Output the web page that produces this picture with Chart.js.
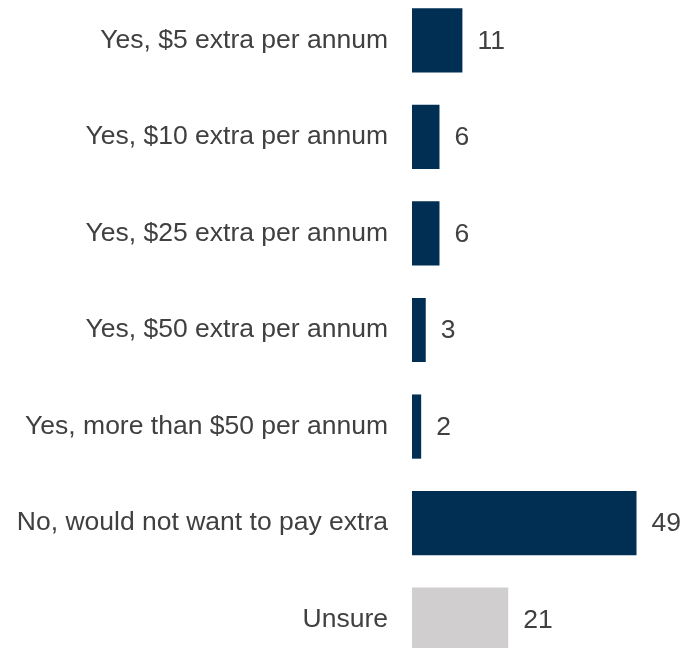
<!DOCTYPE html>
<html>
<head>
<meta charset="utf-8">
<script src="https://cdn.jsdelivr.net/npm/chart.js@4/dist/chart.umd.min.js"></script>
<style>
  html, body { margin: 0; padding: 0; background: #fff; }
  #wrap { position: relative; width: 684px; height: 648px; overflow: hidden; }
  #wrap canvas { position: absolute; left: 0; top: -8px; }
</style>
</head>
<body>
<div id="wrap"><canvas id="payChart" width="684" height="676"></canvas></div>
<script>
const categories = [
  "Yes, $5 extra per annum",
  "Yes, $10 extra per annum",
  "Yes, $25 extra per annum",
  "Yes, $50 extra per annum",
  "Yes, more than $50 per annum",
  "No, would not want to pay extra",
  "Unsure"
];
const values = [11, 6, 6, 3, 2, 49, 21];
const barColors = ["#002F53", "#002F53", "#002F53", "#002F53", "#002F53", "#002F53", "#D0CECE"];

const FONT = "'Liberation Sans', Arial, sans-serif";
const TEXT = "#404040";

// value printed just past the end of each bar
const valueLabels = {
  id: "valueLabels",
  afterDatasetsDraw(chart) {
    const ctx = chart.ctx;
    const meta = chart.getDatasetMeta(0);
    ctx.save();
    ctx.font = "26.5px " + FONT;
    ctx.fillStyle = TEXT;
    ctx.textAlign = "left";
    ctx.textBaseline = "middle";
    meta.data.forEach((bar, i) => {
      ctx.fillText(String(values[i]), bar.x + 15, bar.y + 1);
    });
    ctx.restore();
  }
};

const ctx = document.getElementById("payChart").getContext("2d");
new Chart(ctx, {
  type: "bar",
  data: {
    labels: categories,
    datasets: [
      {
        data: values,
        backgroundColor: barColors,
        borderWidth: 0,
        barPercentage: 0.665,
        categoryPercentage: 1
      }
    ]
  },
  options: {
    indexAxis: "y",
    responsive: false,
    animation: false,
    layout: { padding: { left: 0, right: 20, top: 0, bottom: 0 } },
    plugins: {
      legend: { display: false },
      tooltip: { enabled: false }
    },
    scales: {
      x: {
        display: false,
        min: 0,
        max: 55
      },
      y: {
        grid: { display: false, drawTicks: false },
        border: { display: false },
        ticks: {
          padding: 24,
          color: TEXT,
          font: { family: FONT, size: 26.5 }
        },
        afterFit(scale) {
          // fixed label column, and no extra room above/below the bars
          scale.width = 412;
          scale.paddingTop = 0;
          scale.paddingBottom = 0;
        }
      }
    }
  },
  plugins: [valueLabels]
});
</script>
</body>
</html>
